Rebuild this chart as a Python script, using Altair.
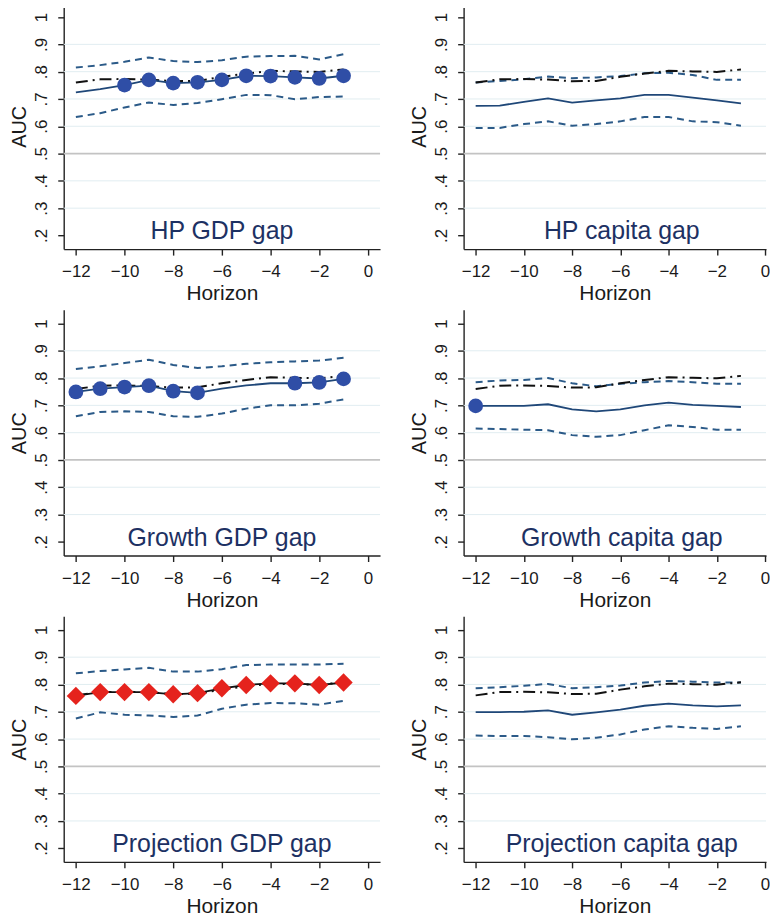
import altair as alt
import pandas as pd

# ---------------- data ----------------
horizon = [-12, -11, -10, -9, -8, -7, -6, -5, -4, -3, -2, -1]

benchmark = [0.760, 0.772, 0.773, 0.771, 0.765, 0.766, 0.781, 0.793, 0.803, 0.801, 0.799, 0.808]

titles = ["HP GDP gap", "HP capita gap",
          "Growth GDP gap", "Growth capita gap",
          "Projection GDP gap", "Projection capita gap"]

hp_gdp_main = [0.724, 0.736, 0.751, 0.770, 0.758, 0.761, 0.770, 0.785, 0.784, 0.779, 0.775, 0.785]
hp_gdp_upper = [0.815, 0.824, 0.836, 0.852, 0.839, 0.835, 0.842, 0.855, 0.857, 0.858, 0.845, 0.864]
hp_gdp_lower = [0.634, 0.648, 0.669, 0.687, 0.678, 0.685, 0.699, 0.715, 0.714, 0.699, 0.707, 0.709]

hp_cap_main = [0.675, 0.676, 0.689, 0.702, 0.687, 0.695, 0.702, 0.715, 0.715, 0.705, 0.695, 0.684]
hp_cap_upper = [0.760, 0.766, 0.772, 0.782, 0.776, 0.779, 0.784, 0.794, 0.796, 0.788, 0.770, 0.770]
hp_cap_lower = [0.594, 0.594, 0.608, 0.618, 0.602, 0.608, 0.618, 0.634, 0.634, 0.618, 0.615, 0.602]

gr_gdp_main = [0.749, 0.761, 0.767, 0.772, 0.752, 0.746, 0.761, 0.773, 0.781, 0.781, 0.784, 0.797]
gr_gdp_upper = [0.833, 0.843, 0.855, 0.867, 0.848, 0.837, 0.843, 0.852, 0.858, 0.861, 0.864, 0.874]
gr_gdp_lower = [0.660, 0.676, 0.678, 0.676, 0.660, 0.658, 0.670, 0.688, 0.700, 0.700, 0.706, 0.722]

gr_cap_main = [0.698, 0.698, 0.698, 0.704, 0.685, 0.678, 0.685, 0.700, 0.710, 0.702, 0.698, 0.694]
gr_cap_upper = [0.785, 0.791, 0.793, 0.800, 0.781, 0.770, 0.779, 0.785, 0.789, 0.785, 0.779, 0.779]
gr_cap_lower = [0.615, 0.613, 0.611, 0.609, 0.591, 0.585, 0.591, 0.609, 0.627, 0.621, 0.611, 0.611]

pr_gdp_main = [0.758, 0.772, 0.772, 0.772, 0.764, 0.768, 0.786, 0.798, 0.804, 0.804, 0.798, 0.807]
pr_gdp_upper = [0.841, 0.849, 0.855, 0.861, 0.847, 0.847, 0.856, 0.871, 0.873, 0.873, 0.873, 0.876]
pr_gdp_lower = [0.675, 0.698, 0.689, 0.686, 0.681, 0.686, 0.711, 0.726, 0.732, 0.731, 0.726, 0.740]

pr_cap_main = [0.699, 0.699, 0.700, 0.705, 0.689, 0.698, 0.708, 0.722, 0.730, 0.723, 0.720, 0.723]
pr_cap_upper = [0.786, 0.790, 0.795, 0.802, 0.786, 0.790, 0.796, 0.807, 0.813, 0.810, 0.807, 0.807]
pr_cap_lower = [0.613, 0.611, 0.611, 0.607, 0.599, 0.605, 0.617, 0.635, 0.647, 0.641, 0.637, 0.647]

# horizons at which a marker is drawn (significant), per panel
hp_gdp_marks = [-10, -9, -8, -7, -6, -5, -4, -3, -2, -1]
hp_cap_marks = []
gr_gdp_marks = [-12, -11, -10, -9, -8, -7, -3, -2, -1]
gr_cap_marks = [-12]
pr_gdp_marks = [-12, -11, -10, -9, -8, -7, -6, -5, -4, -3, -2, -1]
pr_cap_marks = []

grid_values = [0.3, 0.4, 0.6, 0.7, 0.8, 0.9]
ref_value = [0.5]
y_ticks = [0.2, 0.3, 0.4, 0.5, 0.6, 0.7, 0.8, 0.9, 1.0]
x_ticks = [-12, -10, -8, -6, -4, -2, 0]

panels_data = [
    (hp_gdp_main, hp_gdp_upper, hp_gdp_lower, hp_gdp_marks, "circle"),
    (hp_cap_main, hp_cap_upper, hp_cap_lower, hp_cap_marks, "circle"),
    (gr_gdp_main, gr_gdp_upper, gr_gdp_lower, gr_gdp_marks, "circle"),
    (gr_cap_main, gr_cap_upper, gr_cap_lower, gr_cap_marks, "circle"),
    (pr_gdp_main, pr_gdp_upper, pr_gdp_lower, pr_gdp_marks, "diamond"),
    (pr_cap_main, pr_cap_upper, pr_cap_lower, pr_cap_marks, "circle"),
]

# ---------------- style ----------------
W_LEFT, W_RIGHT, H = 318, 304, 247
FONT = "Liberation Sans"
CI_COLOR = "#2b5a88"
MAIN_COLOR = "#1f4778"
TITLE_COLOR = "#1d3163"


def x_enc(right_col):
    dom = [-12.5, 0.04] if right_col else [-12.5, 0.5]
    return alt.X("h:Q",
                 scale=alt.Scale(domain=dom, nice=False, zero=False),
                 axis=alt.Axis(values=x_ticks, title="Horizon", grid=False,
                               tickSize=6, labelPadding=9, titlePadding=3,
                               labelFontSize=17, titleFontSize=21, labelFlush=False))


Y_AXIS = alt.Axis(values=y_ticks, title="AUC", grid=False, tickSize=6,
                  labelAngle=270, labelPadding=7, titlePadding=3,
                  labelFontSize=17, titleFontSize=20,
                  labelExpr="datum.value > 0.99 ? '1' : replace(format(datum.value, '.1f'), '0.', '.')")
Y_SCALE = alt.Scale(domain=[0.15, 1.05], nice=False, zero=False)


def make_panel(i):
    main, upper, lower, marks, shape = panels_data[i]
    right_col = (i % 2 == 1)
    X = x_enc(right_col)
    width = W_RIGHT if right_col else W_LEFT
    df = pd.DataFrame({"h": horizon, "main": main, "upper": upper,
                       "lower": lower, "bench": benchmark})
    df["mark"] = df["h"].isin(marks)

    def yq(field):
        return alt.Y(f"{field}:Q", scale=Y_SCALE, axis=Y_AXIS)

    grid = alt.Chart(pd.DataFrame({"v": grid_values})).mark_rule(
        color="#e1edf1", strokeWidth=1).encode(y=yq("v"))
    ref = alt.Chart(pd.DataFrame({"v": ref_value})).mark_rule(
        color="#c3c3c3", strokeWidth=1.8).encode(y=yq("v"))

    base = alt.Chart(df)
    up = base.mark_line(color=CI_COLOR, strokeWidth=2, strokeDash=[7, 5]).encode(x=X, y=yq("upper"))
    lo = base.mark_line(color=CI_COLOR, strokeWidth=2, strokeDash=[7, 5]).encode(x=X, y=yq("lower"))
    be = base.mark_line(color="#111111", strokeWidth=2, strokeDash=[12, 5, 2, 5]).encode(x=X, y=yq("bench"))
    main_color = "#111111" if shape == "diamond" else MAIN_COLOR
    mn = base.mark_line(color=main_color, strokeWidth=1.8).encode(x=X, y=yq("main"))

    layers = [grid, ref, up, lo, be, mn]
    if marks:
        if shape == "diamond":
            pts = base.transform_filter("datum.mark").mark_point(
                shape="diamond", filled=True, color="#e5231d", size=340, opacity=1
            ).encode(x=X, y=yq("main"))
        else:
            pts = base.transform_filter("datum.mark").mark_point(
                shape="circle", filled=True, color="#2f4ea6", size=220, opacity=1
            ).encode(x=X, y=yq("main"))
        layers.append(pts)

    txt = alt.Chart(pd.DataFrame({"t": [titles[i]]})).mark_text(
        font=FONT, fontSize=25, color=TITLE_COLOR, baseline="middle", align="center"
    ).encode(x=alt.value(W_LEFT / 2), y=alt.value(229), text="t:N")
    layers.append(txt)

    return alt.layer(*layers).properties(width=width, height=H)


rows = []
for r in range(3):
    rows.append(alt.hconcat(make_panel(2 * r), make_panel(2 * r + 1), spacing=29))

chart = alt.vconcat(*rows, spacing=6).properties(
    padding={"top": -7, "left": 2, "right": 0, "bottom": 0}, background="white"
).configure_view(
    stroke=None
).configure_axis(
    domainColor="#222222", domainWidth=1.4, tickColor="#222222", tickWidth=1.4,
    labelColor="#1a1a1a", titleColor="#1a1a1a",
    labelFont=FONT, titleFont=FONT, titleFontWeight="normal"
)

chart.save("out.html", embed_options={"renderer": "svg", "actions": False})
